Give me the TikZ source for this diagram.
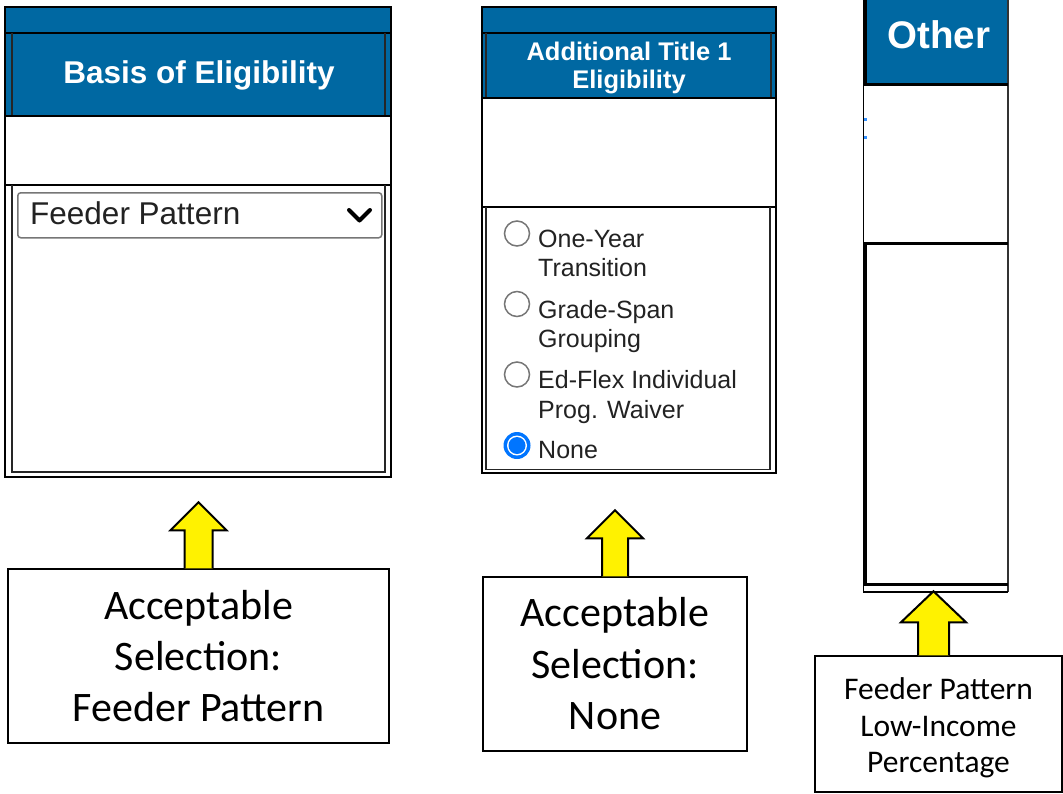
\documentclass[tikz,border=0pt]{standalone}
\usepackage{fontspec}
\setmainfont{Carlito}
\newfontfamily\arialf{Liberation Sans}
\definecolor{hdrblue}{RGB}{0,104,162}
\definecolor{radioblue}{RGB}{0,117,255}
\definecolor{ctlgray}{RGB}{118,118,118}
\definecolor{txtdark}{RGB}{34,34,34}
\begin{document}
\begin{tikzpicture}[x=1pt,y=-1pt,
  hdr/.style={fill=hdrblue},
  frame/.style={draw=black,line width=2pt},
  thinframe/.style={draw=black!85,line width=1.2pt},
  hdrtext/.style={text=white,inner sep=0pt,anchor=base},
  optext/.style={text=txtdark,inner sep=0pt,anchor=base west,font=\arialf\fontsize{25}{29}\selectfont},
  radio/.style={draw=ctlgray,line width=1.5pt,fill=white},
  labelbox/.style={draw=black,line width=1.5pt,fill=white,align=center,inner sep=0pt},
  blockarrow/.style={fill=yellow,draw=black,line width=2pt,line join=miter}
]
\useasboundingbox (0,0) rectangle (1063,793);

% ---------- Left panel ----------
\fill[hdr] (5,7) rectangle (391,116);
\draw[frame] (5,7) rectangle (391,33);
\draw[frame] (5,33) rectangle (391,116);
\draw[thinframe] (12,33) -- (12,116) (385,33) -- (385,116);
\draw[line width=1.5pt] (5,116) rectangle (391,185);
\draw[frame] (5,185) rectangle (391,477);
\draw[thinframe] (12,185) -- (12,472) -- (385,472) -- (385,185);
\node[hdrtext,font=\arialf\bfseries\fontsize{31.5}{34}\selectfont] (hA) at (199,83) {Basis of Eligibility};
\node[draw=ctlgray,rounded corners=3pt,line width=1.5pt,fill=white,minimum width=364pt,minimum height=45pt,anchor=north west,inner sep=0pt] (dropA) at (17,192) {};
\node[text=txtdark,inner sep=0pt,anchor=base west,font=\arialf\fontsize{31.5}{35}\selectfont] (dropAtext) at (30,224) {Feeder Pattern};
\draw[line width=4pt,line cap=round,line join=round] (349,210) -- (359.5,220.5) -- (370,210);

% ---------- Middle panel ----------
\fill[hdr] (482,7) rectangle (776,98);
\draw[frame] (482,7) rectangle (776,33);
\draw[frame] (482,33) rectangle (776,98);
\draw[thinframe] (486,33) -- (486,98) (771,33) -- (771,98);
\draw[line width=1.5pt] (482,98) rectangle (776,207);
\draw[frame] (482,207) rectangle (776,473);
\draw[thinframe] (486,207) -- (486,469.5) -- (770,469.5) -- (770,207);
\node[hdrtext,font=\arialf\bfseries\fontsize{25.5}{28}\selectfont] (hB1) at (629,60) {Additional Title 1};
\node[hdrtext,font=\arialf\bfseries\fontsize{25.5}{28}\selectfont] (hB2) at (629,88) {Eligibility};

\draw[radio] (517,233.5) circle[radius=12.5pt];
\draw[radio] (517,304) circle[radius=12.5pt];
\draw[radio] (517,374.5) circle[radius=12.5pt];
\fill[radioblue] (517,445.5) circle[radius=13.5pt];
\fill[white] (517,445.5) circle[radius=10pt];
\fill[radioblue] (517,445.5) circle[radius=8.5pt];

\node[optext] (o1a) at (538,247) {One-Year};
\node[optext] (o1b) at (538,276) {Transition};
\node[optext] (o2a) at (538,318) {Grade-Span};
\node[optext] (o2b) at (538,347) {Grouping};
\node[optext] (o3a) at (538,388) {Ed-Flex Individual};
\node[optext] (o3b) at (538,418) {Prog. Waiver};
\node[optext] (o4) at (538,458) {None};

% ---------- Right panel ----------
\fill[hdr] (863,0) rectangle (1008,84);
\draw[line width=1.5pt,draw=black!80] (1008,0) -- (1008,592);
\draw[line width=1.2pt] (863.5,84) -- (863.5,592) -- (1008,592);
\draw[line width=4pt] (865,0) -- (865,85.5);
\draw[line width=4pt] (865,242) -- (865,585);
\draw[line width=3pt] (863,84.5) -- (1008,84.5);
\draw[line width=3pt] (863,243.5) -- (1008,243.5);
\draw[line width=3pt] (863,584) -- (1008,584);
\fill[radioblue!80] (864,117.5) rectangle (866.5,120.5);
\fill[radioblue!80] (864,136) rectangle (866.5,139);
\node[hdrtext,font=\arialf\bfseries\fontsize{38.5}{42}\selectfont] (hC) at (939,48) {Other};

% ---------- Label boxes ----------
\node[labelbox,minimum width=381pt,minimum height=174pt,font=\fontsize{42}{51}\selectfont] (boxA) at (198.5,656) {Acceptable\\Selection:\\Feeder Pattern};
\node[labelbox,minimum width=264pt,minimum height=174pt,font=\fontsize{42}{51.5}\selectfont] (boxB) at (615,664) {Acceptable\\Selection:\\None};
\node[labelbox,minimum width=247pt,minimum height=136pt] (boxC) at (938.5,724) {};
\node[inner sep=0pt,align=center,font=\fontsize{31.5}{36.5}\selectfont] (boxCtext) at ([yshift=-4pt]boxC.center) {Feeder Pattern\\Low-Income\\Percentage};

% ---------- Yellow arrows ----------
\draw[blockarrow] ([xshift=-14pt]boxA.north) -- ++(0,-38) -- ++(-14,0) -- ++(28,-28) -- ++(28,28) -- ++(-14,0) -- ++(0,38);
\draw[blockarrow] ([xshift=-13pt]boxB.north) -- ++(0,-38) -- ++(-15,0) -- ++(28,-28) -- ++(28,28) -- ++(-15,0) -- ++(0,38);
\draw[blockarrow] ([xshift=-20.5pt]boxC.north) -- ++(0,-33) -- ++(-17,0) -- ++(32.5,-31) -- ++(32.5,31) -- ++(-17,0) -- ++(0,33);
\end{tikzpicture}
\end{document}
